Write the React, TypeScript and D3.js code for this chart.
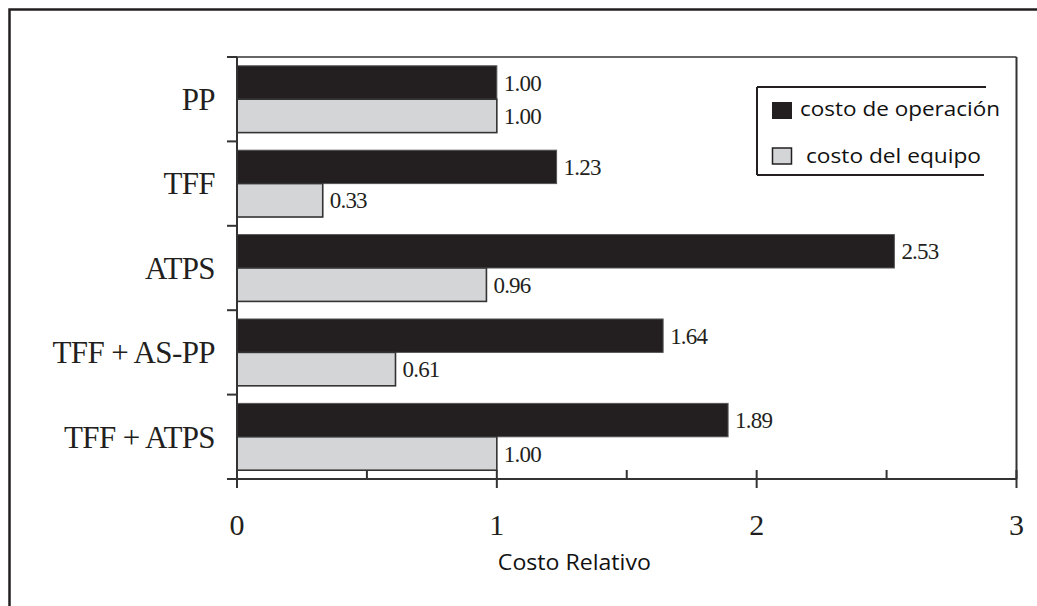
import React from "react";
import * as d3 from "d3";

const categories = ["PP", "TFF", "ATPS", "TFF + AS-PP", "TFF + ATPS"];
const series = ["costo de operación", "costo del equipo"];
const operacion = [1.0, 1.23, 2.53, 1.64, 1.89];
const equipo = [1.0, 0.33, 0.96, 0.61, 1.0];
const majorTicks = [0, 1, 2, 3];
const minorTicks = [0.5, 1.5, 2.5];
const xLabel = "Costo Relativo";

const W = 1037;
const H = 606;
const left = 237;
const right = 1016.5;
const top = 57;
const bottom = 479;
const ink = "#231f20";
const fills = ["#231f20", "#d4d5d7"];
const serif = "'Liberation Serif', 'Times New Roman', serif";
const sans = "'Open Sans', 'Noto Sans', sans-serif";

export default function App() {
  const x = d3.scaleLinear().domain([0, 3]).range([left, right]);
  const y = d3.scaleBand<string>().domain(categories).range([top, bottom]).paddingInner(0).paddingOuter(0);
  const inner = d3.scaleBand<string>().domain(series).range([0, y.bandwidth()]).paddingInner(0).paddingOuter(0.263);
  const values = [operacion, equipo];

  const boundaries = categories.map((c) => y(c)!).concat([bottom]);

  return (
    <svg width={W} height={H} style={{ position: "absolute", left: 0, top: 0, background: "#fff" }}>
      <rect x={0} y={0} width={W} height={H} fill="#fff" />
      {/* outer frame */}
      <rect x={9.5} y={9.5} width={1200} height={800} fill="none" stroke={ink} strokeWidth={2.5} />

      {/* bars */}
      {categories.map((c, i) =>
        series.map((s, j) => {
          const v = values[j][i];
          const by = y(c)! + inner(s)!;
          const bh = inner.bandwidth();
          return (
            <g key={c + s}>
              <rect
                x={x(0)}
                y={by}
                width={x(v) - x(0)}
                height={bh}
                fill={fills[j]}
                stroke={j === 0 ? "#555" : "#333"}
                strokeWidth={j === 0 ? 1 : 1.6}
              />
              <text
                x={x(v) + 7}
                y={by + bh / 2}
                dy="0.35em"
                fontFamily={serif}
                fontSize={23}
                letterSpacing={-0.8}
                fill={ink}
              >
                {d3.format(".2f")(v)}
              </text>
            </g>
          );
        })
      )}

      {/* plot frame */}
      <line x1={left} x2={right} y1={top} y2={top} stroke="#333" strokeWidth={1.6} />
      <line x1={right} x2={right} y1={top} y2={bottom} stroke="#333" strokeWidth={2} />
      <line x1={left} x2={left} y1={top} y2={bottom} stroke="#333" strokeWidth={2} />
      <line x1={left - 10} x2={right} y1={bottom} y2={bottom} stroke="#333" strokeWidth={2} />

      {/* y ticks */}
      {boundaries.map((b, i) => (
        <line key={"yt" + i} x1={left - 10} x2={left} y1={b} y2={b} stroke="#333" strokeWidth={2} />
      ))}

      {/* category labels */}
      {categories.map((c) => (
        <text
          key={"cl" + c}
          x={215}
          y={y(c)! + y.bandwidth() / 2}
          dy="0.35em"
          textAnchor="end"
          fontFamily={serif}
          fontSize={31}
          letterSpacing={-0.6}
          fill={ink}
        >
          {c}
        </text>
      ))}

      {/* x ticks */}
      {majorTicks.map((t) => (
        <g key={"xt" + t}>
          <line x1={x(t)} x2={x(t)} y1={bottom - 9} y2={bottom + 9} stroke="#333" strokeWidth={2} />
          <text x={x(t)} y={535} textAnchor="middle" fontFamily={serif} fontSize={30} fill={ink}>
            {t}
          </text>
        </g>
      ))}
      {minorTicks.map((t) => (
        <line key={"mt" + t} x1={x(t)} x2={x(t)} y1={bottom - 9} y2={bottom} stroke="#333" strokeWidth={2} />
      ))}

      <text x={x(1) + 1} y={570} fontFamily={sans} fontSize={21} fill="#111" textLength={153} lengthAdjust="spacingAndGlyphs">
        {xLabel}
      </text>

      {/* legend */}
      <g>
        <line x1={757} x2={986} y1={87} y2={87} stroke={ink} strokeWidth={2} />
        <line x1={757} x2={984} y1={175} y2={175} stroke={ink} strokeWidth={2} />
        <line x1={757} x2={757} y1={87} y2={175} stroke={ink} strokeWidth={2} />
        <rect x={772.5} y={102.5} width={19} height={16} fill={fills[0]} stroke={ink} strokeWidth={1} />
        <text x={800} y={116} fontFamily={sans} fontSize={20} fill="#111" textLength={200} lengthAdjust="spacingAndGlyphs">
          {series[0]}
        </text>
        <rect x={772.5} y={148} width={19} height={16} fill={fills[1]} stroke={ink} strokeWidth={1.5} />
        <text x={806} y={163} fontFamily={sans} fontSize={20} fill="#111" textLength={175} lengthAdjust="spacingAndGlyphs">
          {series[1]}
        </text>
      </g>
    </svg>
  );
}
